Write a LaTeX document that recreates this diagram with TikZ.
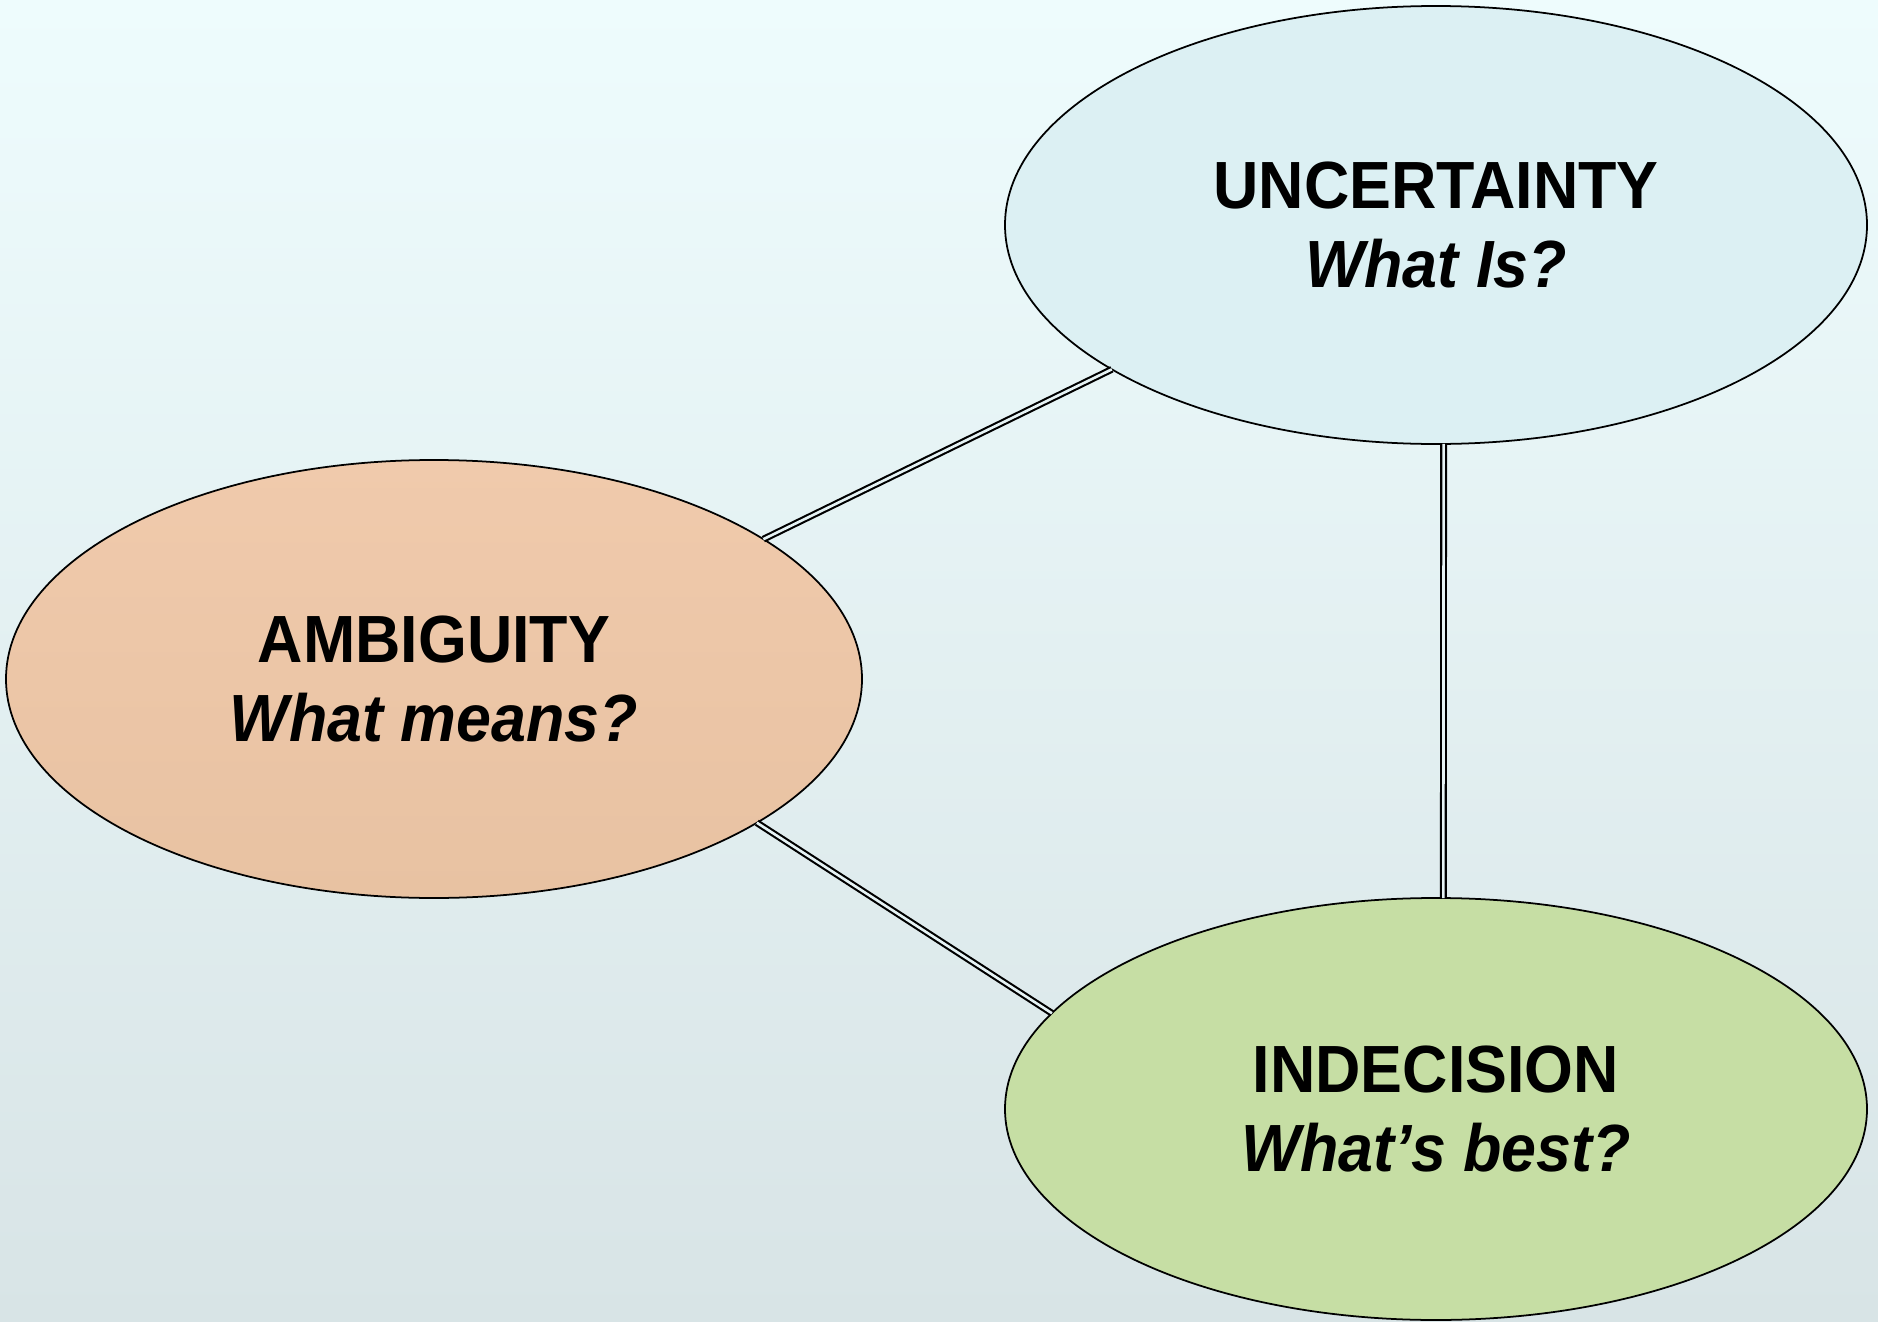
\documentclass[tikz,border=0pt]{standalone}
\usepackage{fontspec}
\setmainfont{Liberation Sans}[FakeStretch=0.94]
\usetikzlibrary{shapes.geometric}

\definecolor{bgtop}{RGB}{238,252,253}
\definecolor{bgbot}{RGB}{216,228,230}
\definecolor{bgmid}{RGB}{230,243,245}
\definecolor{uncfill}{RGB}{220,240,243}
\definecolor{ambtop}{RGB}{240,202,172}
\definecolor{ambbot}{RGB}{232,194,162}
\definecolor{indfill}{RGB}{198,222,164}

\begin{document}
\begin{tikzpicture}[
    blob/.style={ellipse, draw, line width=0.5pt, inner sep=0pt, outer sep=0pt,
      align=center, font=\fontsize{19}{22.5}\selectfont\bfseries},
    link/.style={double=bgmid, double distance=0.75pt, line width=0.6pt}
  ]
    \path[use as bounding box] (0,0) rectangle (18.78,-13.22);

    % background
    \shade[top color=bgtop, bottom color=bgbot] (0,0) rectangle (18.78,-13.22);

    \node[blob, fill=uncfill, minimum width=8.62cm, minimum height=4.38cm]
      (uncertainty) at (14.36,-2.25) {UNCERTAINTY\\ \textit{What Is?}};
    \node[blob, top color=ambtop, bottom color=ambbot, minimum width=8.56cm, minimum height=4.38cm]
      (ambiguity) at (4.34,-6.79) {AMBIGUITY\\ \textit{What means?}};
    \node[blob, fill=indfill, minimum width=8.62cm, minimum height=4.22cm]
      (indecision) at (14.36,-11.09) {INDECISION\\ \textit{What’s best?}};

    % connections
    \draw[link] (ambiguity.23.6) -- (uncertainty.204.1);
    \draw[link] (ambiguity.-24.6) -- (indecision.166.8);
    \draw[link] (uncertainty.-88.2) -- (indecision.88.1);

\end{tikzpicture}
\end{document}
